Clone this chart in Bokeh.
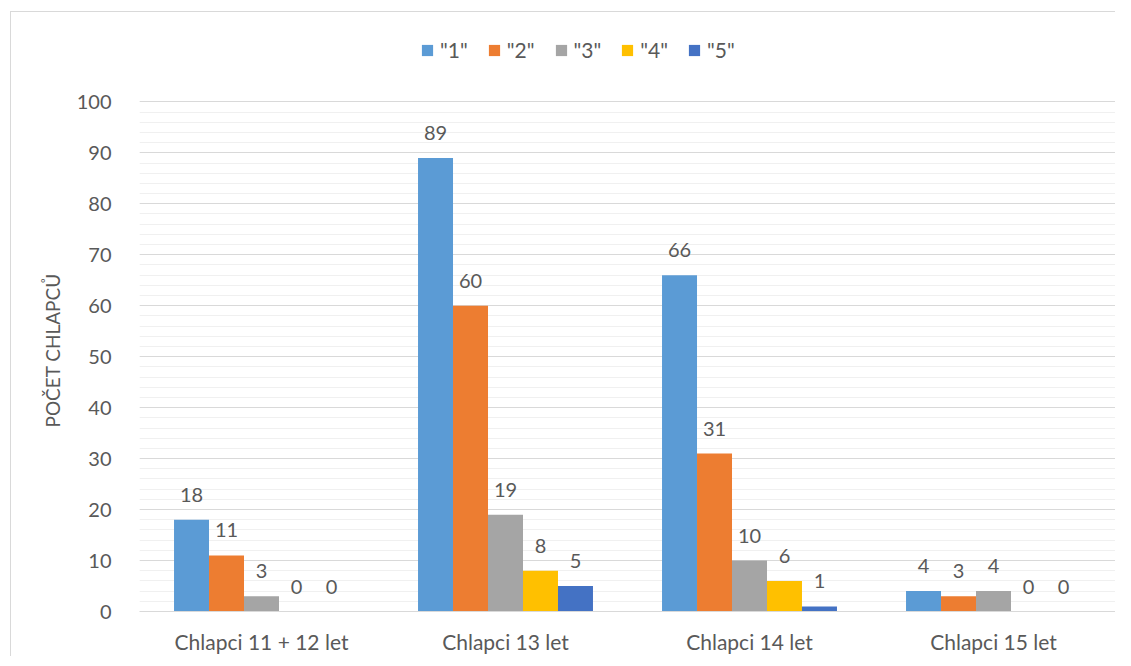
from bokeh.plotting import figure
from bokeh.models import ColumnDataSource, FactorRange, SingleIntervalTicker, LabelSet, Legend, LegendItem, Title
from bokeh.core.properties import value
from bokeh.transform import dodge
from bokeh.embed import file_html
from bokeh.resources import INLINE

categories = ["Chlapci 11 + 12 let", "Chlapci 13 let", "Chlapci 14 let", "Chlapci 15 let"]
series = ['"1"', '"2"', '"3"', '"4"', '"5"']
grade1 = [18, 89, 66, 4]
grade2 = [11, 60, 31, 3]
grade3 = [3, 19, 10, 4]
grade4 = [0, 8, 6, 0]
grade5 = [0, 5, 1, 0]
colors = ["#5B9BD5", "#ED7D31", "#A5A5A5", "#FFC000", "#4472C4"]
y_label = "POČET CHLAPCŮ"
y_max = 100

FONT = "Lato"
TXT = "#595959"

data = {"cat": categories, "g1": grade1, "g2": grade2, "g3": grade3, "g4": grade4, "g5": grade5}
for k in ["g1", "g2", "g3", "g4", "g5"]:
    data[k + "_t"] = [str(v) for v in data[k]]
src = ColumnDataSource(data)

# frame extends above 100 to host the legend; axis and grid bounded to 0..100
p = figure(x_range=FactorRange(*categories, range_padding=0), y_range=(0, 114),
           frame_width=976, frame_height=581,
           min_border_left=128, min_border_top=18, min_border_right=0, min_border_bottom=38,
           output_backend="svg", toolbar_location=None, outline_line_color=None,
           background_fill_color="white", border_fill_color="white")
p.styles = {"border-left": "1px solid #D9D9D9", "border-top": "1px solid #D9D9D9",
            "margin-left": "10px", "margin-top": "11px"}

bw = 0.1434
offsets = [-2 * bw, -bw, 0, bw, 2 * bw]
keys = ["g1", "g2", "g3", "g4", "g5"]
items = []
for key, off, col, name in zip(keys, offsets, colors, series):
    r = p.vbar(x=dodge("cat", off, range=p.x_range), top=key, width=bw, source=src,
               fill_color=col, line_color=None)
    items.append(LegendItem(label=name, renderers=[r]))
    lbl = LabelSet(x=dodge("cat", off, range=p.x_range), y=key, text=key + "_t", source=src,
                   text_align="center", text_baseline="alphabetic", y_offset=18,
                   text_font=value(FONT), text_font_size="20px", text_color=TXT)
    p.add_layout(lbl)

legend = Legend(items=items, orientation="horizontal", location=(281, 549),
                glyph_width=14, glyph_height=14, label_standoff=6, spacing=19,
                padding=0, margin=0, border_line_color=None, background_fill_alpha=0,
                label_text_font=FONT, label_text_font_size="21px", label_text_color=TXT)
p.add_layout(legend)

ticker = SingleIntervalTicker(interval=10, num_minor_ticks=5)
p.yaxis.ticker = ticker
p.yaxis.bounds = (0, y_max)
p.ygrid.ticker = ticker
p.ygrid.bounds = (0, y_max)
p.ygrid.grid_line_color = "#D9D9D9"
p.ygrid.minor_grid_line_color = "#F0F0F0"
p.xgrid.grid_line_color = None

p.yaxis.axis_line_color = None
p.yaxis.major_tick_line_color = None
p.yaxis.minor_tick_line_color = None
p.yaxis.major_label_standoff = 22
p.yaxis.major_label_text_font = FONT
p.yaxis.major_label_text_font_size = "20px"
p.yaxis.major_label_text_color = TXT

ytitle = Title(text=y_label, align="left", offset=184, vertical_align="bottom", standoff=20,
               text_font=FONT, text_font_size="19px", text_font_style="normal", text_color=TXT)
p.add_layout(ytitle, "left")

p.xaxis.axis_line_color = "#D9D9D9"
p.xaxis.axis_line_width = 1
p.xaxis.major_tick_line_color = None
p.xaxis.minor_tick_line_color = None
p.xaxis.major_label_standoff = 11
p.xaxis.major_label_text_font = FONT
p.xaxis.major_label_text_font_size = "21px"
p.xaxis.major_label_text_color = TXT

open("out.html", "w").write(file_html(p, INLINE))
